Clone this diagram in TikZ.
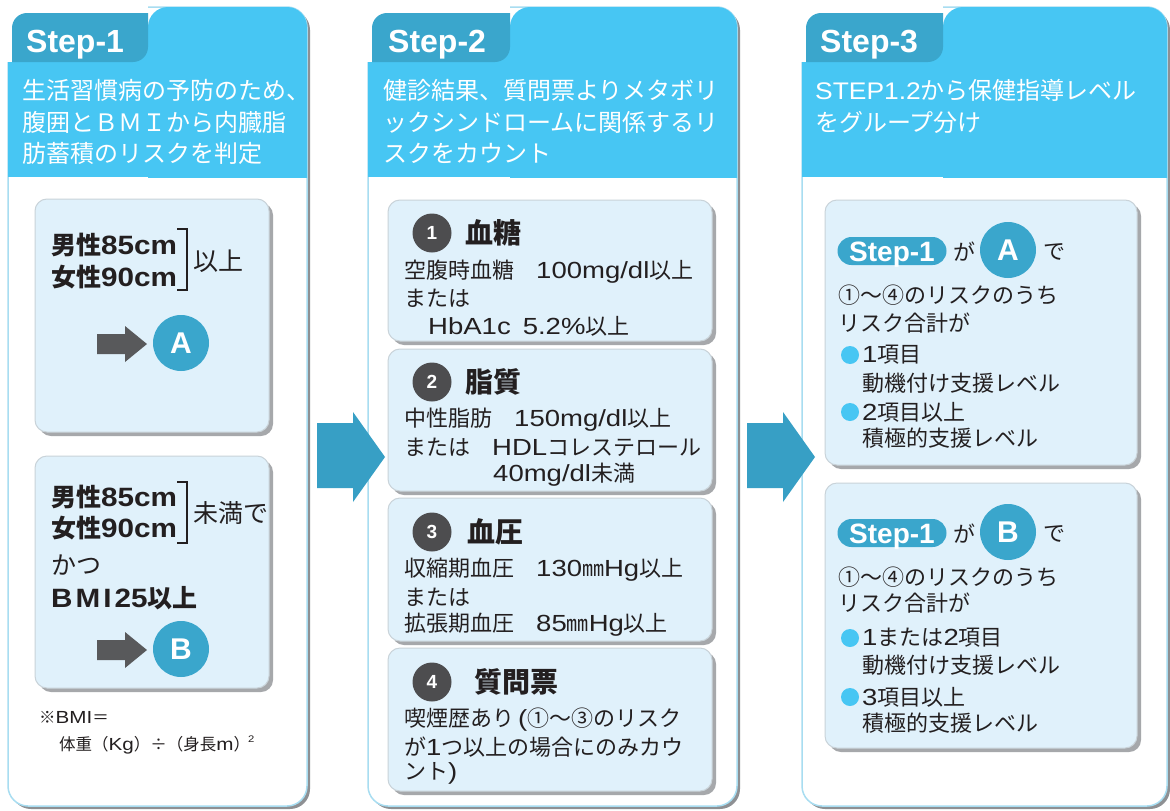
\documentclass[tikz,border=0pt]{standalone}
\usepackage{fontspec}
\setmainfont{Noto Sans CJK JP}
\newfontfamily\stepfont{Liberation Sans}
\newfontfamily\bodylatin{Liberation Sans}[Scale=1.06, FakeStretch=1.18]
\newfontfamily\boldlatin{Liberation Sans}[Scale=1.06, FakeStretch=1.12]
\newfontfamily\headlatin{Liberation Sans}[FakeStretch=1.1]
\newcommand\fsz[1]{\fontsize{#1}{#1}\selectfont}
\newcommand\la[1]{{\bodylatin #1}}
\newcommand\lb[1]{{\boldlatin #1}}
\newcommand\lh[1]{{\headlatin #1}}
\definecolor{headblue}{HTML}{47C6F3}
\definecolor{tabblue}{HTML}{3AA6CC}
\definecolor{circblue}{HTML}{3AA6CC}
\definecolor{boxfill}{HTML}{E0F1FB}
\definecolor{boxline}{HTML}{C9D3D9}
\definecolor{boxshadow}{HTML}{A6A8AB}
\definecolor{panelline}{HTML}{A8DDF1}
\definecolor{panelshadow}{HTML}{8E9093}
\definecolor{arrowblue}{HTML}{379FC5}
\definecolor{ink}{HTML}{231F20}
\definecolor{darkarrow}{HTML}{58595B}
\definecolor{numgray}{HTML}{4D4D4F}
\definecolor{bulletblue}{HTML}{47C6F3}
\newcommand\innerbox[4]{%
  \fill[boxshadow, rounded corners=12pt] (#1+4,#2+4) rectangle (#3+4,#4+4);
  \filldraw[fill=boxfill, draw=boxline, line width=1pt, rounded corners=12pt] (#1,#2) rectangle (#3,#4);}
\begin{document}
\begin{tikzpicture}[x=1pt,y=-1pt,
  t/.style={anchor=west, inner sep=0pt, text=ink, font=\fsz{22}},
  tb/.style={anchor=west, inner sep=0pt, text=ink, font=\fsz{25}\bfseries},
  tr/.style={anchor=west, inner sep=0pt, text=ink, font=\fsz{25}},
  ttl/.style={anchor=west, inner sep=0pt, text=ink, font=\fsz{28}\bfseries},
  hd/.style={anchor=west, inner sep=0pt, text=white, font=\fsz{24}},
  steplabel/.style={anchor=base west, inner sep=0pt, text=white, font=\stepfont\bfseries\fsz{32}},
  letter/.style={circle, fill=circblue, minimum size=56pt, inner sep=0pt, text=white, font=\stepfont\bfseries\fsz{30}},
  numc/.style={circle, fill=numgray, minimum size=39pt, inner sep=0pt, text=white, font=\stepfont\bfseries\fsz{19}},
  pill/.style={rectangle, rounded corners=14pt, fill=circblue, minimum width=109pt, minimum height=28pt, inner sep=0pt, text height=20pt, text depth=0pt, text=white, font=\stepfont\bfseries\fsz{28}},
  bul/.style={circle, fill=bulletblue, minimum size=18pt, inner sep=0pt},
  note/.style={anchor=west, inner sep=0pt, text=ink, font=\fsz{16.5}}]
\useasboundingbox (0,0) rectangle (1170,811);
\fill[white] (0,0) rectangle (1170,811);

% ---------- panels ----------
\foreach \L/\R/\T in {8/307/148, 368/737/510, 802/1167/943}{
  \fill[panelshadow, rounded corners=20pt] (\T,10) -- (\R+3,10) -- (\R+3,809) -- (\L+3,809) -- (\L+3,62) -- (\T,62) -- cycle;
  \fill[white, rounded corners=20pt] (\L,40) rectangle (\R,806);
  \draw[panelline, line width=1.5pt, rounded corners=20pt] (\L,62) -- (\L,806) -- (\R,806) -- (\R,7) -- (\T,7);
  \begin{scope}
    \clip (\L-5,0) rectangle (\R+10,177);
    \fill[headblue, rounded corners=20pt] (\T,7) rectangle (\R,300);
  \end{scope}
  \fill[headblue] (\L,62) rectangle (\T,177);
  \fill[headblue] (\T-25,40) rectangle (\T,62);
  \begin{scope}
    \clip[rounded corners=15pt] (\L+4,13) rectangle (\T+40,100);
    \fill[tabblue, rounded corners=15pt] (\L-30,-20) rectangle (\T,62);
  \end{scope}
}

% step labels
\node[steplabel] (s1) at (26,52) {Step-1};
\node[steplabel] (s2) at (388,52) {Step-2};
\node[steplabel] (s3) at (820,52) {Step-3};

% headers
\node[hd] (h1a) at (22,90) {生活習慣病の予防のため、};
\node[hd] (h1b) at (22,122) {腹囲とＢＭＩから内臓脂};
\node[hd] (h1c) at (22,153) {肪蓄積のリスクを判定};
\node[hd] (h2a) at (383,90) {健診結果、質問票よりメタボリ};
\node[hd] (h2b) at (383,122) {ックシンドロームに関係するリ};
\node[hd] (h2c) at (383,153) {スクをカウント};
\node[hd] (h3a) at (815,90) {\lh{STEP1.2}から保健指導レベル};
\node[hd] (h3b) at (815,122) {をグループ分け};

% ---------- big arrows ----------
\fill[arrowblue] (317,423) -- (353,423) -- (353,412) -- (385,457) -- (353,502) -- (353,488) -- (317,488) -- cycle;
\fill[arrowblue] (747,423) -- (783,423) -- (783,412) -- (815,457) -- (783,502) -- (783,488) -- (747,488) -- cycle;

% ---------- panel 1 ----------
\innerbox{35}{199}{269}{432}
\innerbox{35}{456}{269}{688}
\node[tb] (a1) at (51,245) {男性\lb{85cm}};
\node[tb] (a2) at (51,277) {女性\lb{90cm}};
\draw[ink, line width=1.4pt] (177,229) -- (187,229) -- (187,290) -- (177,290);
\node[tr] (a3) at (193,261) {以上};
\fill[darkarrow] (97,334) -- (125,334) -- (125,326) -- (147,344) -- (125,362) -- (125,354) -- (97,354) -- cycle;
\node[letter] (A1) at (181,343) {A};

\node[tb] (b1) at (51,497) {男性\lb{85cm}};
\node[tb] (b2) at (51,528) {女性\lb{90cm}};
\draw[ink, line width=1.4pt] (177,482) -- (187,482) -- (187,543) -- (177,543);
\node[tr] (b3) at (193,513) {未満で};
\node[tr] (b4) at (51,565) {かつ};
\node[tb] (b5) at (51,598) {\lb{B\kern3pt M\kern3pt I\kern3pt 25}以上};
\fill[darkarrow] (97,640) -- (125,640) -- (125,632) -- (147,650) -- (125,668) -- (125,660) -- (97,660) -- cycle;
\node[letter] (B1) at (181,649) {B};

\node[note] (n1) at (39,717) {※\la{BMI}＝};
\node[note] (n2) at (59,745) {体重（\la{Kg}）÷（身長\la{m}）\kern-2pt\raisebox{8pt}{\la{\fsz{9}2}}};

% ---------- panel 2 ----------
\innerbox{388}{200}{712}{341}
\innerbox{388}{349}{712}{491}
\innerbox{388}{498}{712}{641}
\innerbox{388}{648}{712}{791}

\node[numc] (c1) at (432,233) {1};
\node[ttl] (r1) at (465,233) {血糖};
\node[t] (r1a) at (404,272) {空腹時血糖　\la{100mg/dl}以上};
\node[t] (r1b) at (404,298) {または};
\node[t] (r1c) at (428,326) {\la{HbA1c\hspace{12pt}5.2\%}以上};

\node[numc] (c2) at (432,382) {2};
\node[ttl] (r2) at (465,382) {脂質};
\node[t] (r2a) at (404,420) {中性脂肪　\la{150mg/dl}以上};
\node[t] (r2b) at (404,447) {または　\la{HDL}コレステロール};
\node[t] (r2c) at (493,475) {\la{40mg/dl}未満};

\node[numc] (c3) at (432,532) {3};
\node[ttl] (r3) at (467,532) {血圧};
\node[t] (r3a) at (404,570) {収縮期血圧　\la{130}㎜\la{Hg}以上};
\node[t] (r3b) at (404,597) {または};
\node[t] (r3c) at (404,625) {拡張期血圧　\la{85}㎜\la{Hg}以上};

\node[numc] (c4) at (432,682) {4};
\node[ttl] (r4) at (474,682) {質問票};
\node[t] (r4a) at (404,720) {喫煙歴あり\la{\,(}①～③のリスク};
\node[t] (r4b) at (404,747) {が\la{1}つ以上の場合にのみカウ};
\node[t] (r4c) at (404,773) {ント\la{)}};

% ---------- panel 3 ----------
\innerbox{825}{200}{1137}{465}
\innerbox{825}{483}{1137}{748}

\node[pill] (pA) at (892,251) {Step-1};
\node[t] (gA) at (953,252) {が};
\node[letter] (A2) at (1008,250) {A};
\node[t] (dA) at (1043,252) {で};
\node[t] (qa1) at (838,295) {①～④のリスクのうち};
\node[t] (qa2) at (838,323) {リスク合計が};
\node[bul] (ba1) at (850,355) {};
\node[t] (qa3) at (862,355) {\la{1}項目};
\node[t] (qa4) at (862,383) {動機付け支援レベル};
\node[bul] (ba2) at (850,412) {};
\node[t] (qa5) at (862,412) {\la{2}項目以上};
\node[t] (qa6) at (862,438) {積極的支援レベル};

\node[pill] (pB) at (892,533) {Step-1};
\node[t] (gB) at (953,534) {が};
\node[letter] (B2) at (1008,532) {B};
\node[t] (dB) at (1043,534) {で};
\node[t] (qb1) at (838,577) {①～④のリスクのうち};
\node[t] (qb2) at (838,603) {リスク合計が};
\node[bul] (bb1) at (850,638) {};
\node[t] (qb3) at (862,638) {\la{1}または\la{2}項目};
\node[t] (qb4) at (862,665) {動機付け支援レベル};
\node[bul] (bb2) at (850,697) {};
\node[t] (qb5) at (862,697) {\la{3}項目以上};
\node[t] (qb6) at (862,723) {積極的支援レベル};
\end{tikzpicture}
\end{document}
